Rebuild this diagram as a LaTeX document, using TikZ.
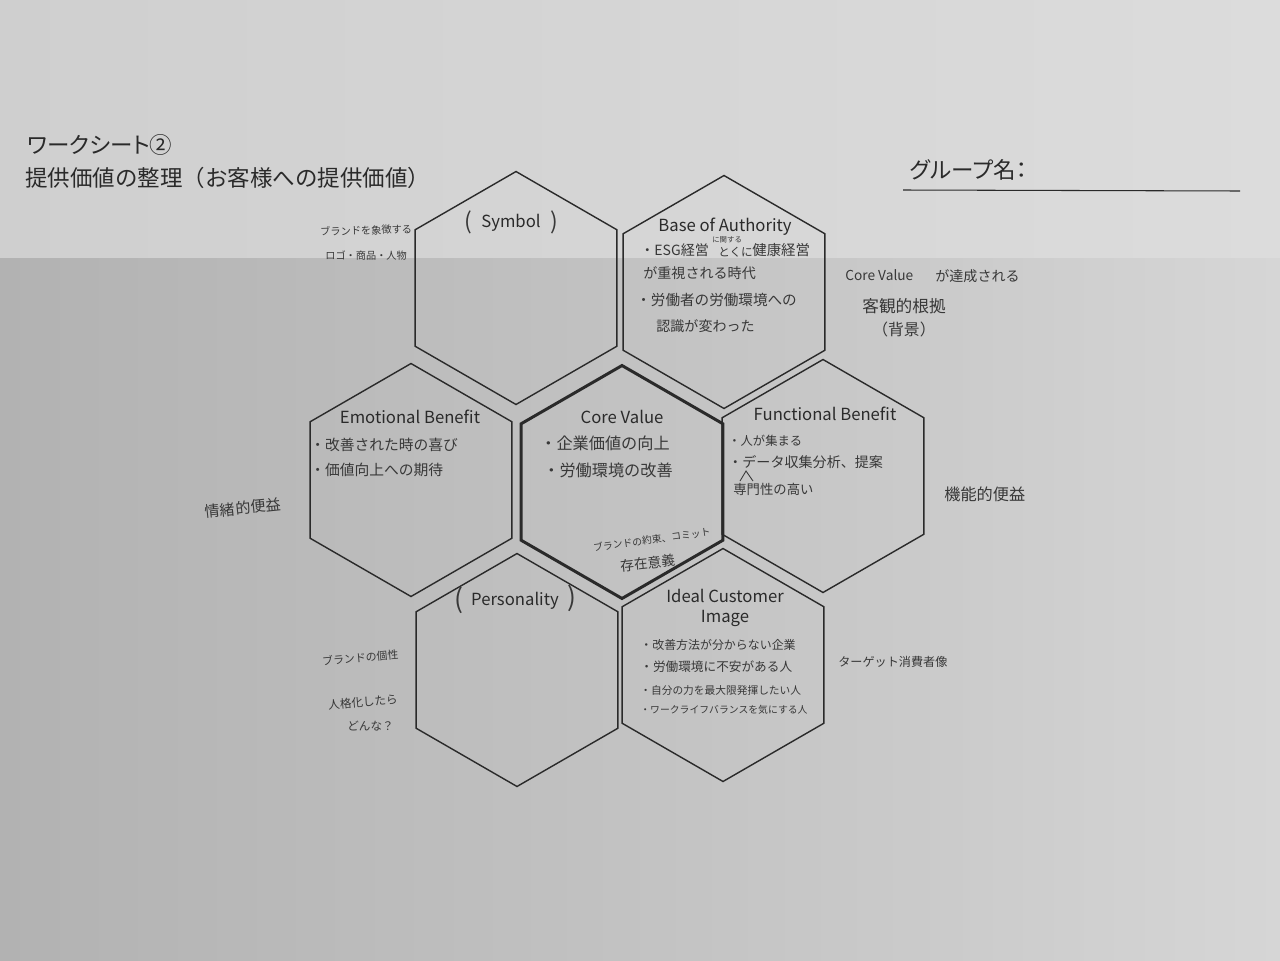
\documentclass[tikz,border=0pt]{standalone}
\usepackage{fontspec}
\setmainfont{Noto Sans CJK JP}
\newfontfamily\jpprop[RawFeature=+palt]{Noto Sans CJK JP}
\usetikzlibrary{shapes.geometric}
\definecolor{ink}{HTML}{2A2A2A}
\definecolor{pencil}{HTML}{383838}
% paper tones: the lit upper strip and the shadowed lower part
\definecolor{topL}{HTML}{CFCFCF}
\definecolor{topR}{HTML}{DCDCDC}
\definecolor{lowA}{HTML}{B2B2B2}
\definecolor{lowB}{HTML}{BFBFBF}
\definecolor{lowC}{HTML}{CBCBCB}
\definecolor{lowD}{HTML}{D6D6D6}
% the path spans the 25bp..75bp part of a shading
\pgfdeclarehorizontalshading{lowershade}{100bp}{color(0bp)=(lowA); color(25bp)=(lowA); color(45bp)=(lowB); color(62bp)=(lowC); color(75bp)=(lowD); color(100bp)=(lowD)}
\begin{document}
\begin{tikzpicture}[x=0.02cm,y=-0.02cm,
  hexcell/.style={regular polygon, regular polygon sides=6, shape border rotate=30,
    minimum size=4.66cm, inner sep=0pt, draw=ink, line width=0.8pt},
  corecell/.style={hexcell, line width=1.7pt},
  printed/.style={text=ink, font=\fontsize{9.5}{11}\selectfont, inner sep=0pt},
  hand/.style={text=pencil, font=\fontsize{8.3}{9.5}\selectfont, inner sep=0pt, anchor=west},
  paren/.style={text=pencil, font=\fontsize{13}{14}\selectfont, inner sep=0pt},
]
\useasboundingbox (0,0) rectangle (1280,960);

% paper
\shade[left color=topL, right color=topR] (0,0) rectangle (1280,259);
\shade[shading=lowershade] (0,258) rectangle (1280,960);

% header
\node[text=ink, anchor=west, inner sep=0pt, font=\jpprop\fontsize{12.8}{14}\selectfont] (sheet) at (27,145) {ワークシート②};
\node[text=ink, anchor=west, inner sep=0pt, font=\fontsize{12.8}{14}\selectfont] (subject) at (25,178) {提供価値の整理（お客様への提供価値）};
\node[text=ink, anchor=west, inner sep=0pt, font=\jpprop\fontsize{12.8}{14}\selectfont] (group) at (910,170) {グループ名：};
\coordinate (lineL) at (903,190);
\coordinate (lineR) at (1240,191);
\draw[ink, line width=0.6pt] (lineL) -- (lineR);

% honeycomb
\node[hexcell] (hSym) at (516,288) {};
\node[hexcell] (hBase) at (724,292) {};
\node[hexcell] (hEmo) at (411,480) {};
\node[corecell] (hCore) at (622,482) {};
\node[hexcell] (hFun) at (823,476) {};
\node[hexcell] (hPer) at (517,670) {};
\node[hexcell] (hIdeal) at (723,665) {};

% cell titles
\node[printed] (tSym) at (511,223) {Symbol};
\node[paren] (pSymL) at (468,222) {(};
\node[paren] (pSymR) at (554,222) {)};
\node[printed] (tBase) at (725,227) {Base of Authority};
\node[printed] (tEmo) at (410,417) {Emotional Benefit};
\node[printed] (tCore) at (622,417) {Core Value};
\node[printed] (tFun) at (825,414) {Functional Benefit};
\node[printed] (tPer) at (515,601) {Personality};
\node[paren, font=\fontsize{15}{16}\selectfont] (pPerL) at (459,600) {(};
\node[paren, font=\fontsize{15}{16}\selectfont] (pPerR) at (572,598) {)};
\node[printed, align=center, font=\fontsize{9.5}{11.5}\selectfont] (tIdeal) at (725,608) {Ideal Customer\\Image};

% Symbol notes
\node[hand, font=\fontsize{5.8}{7}\selectfont, rotate=2] (nSym1) at (320,232) {ブランドを象徴する};
\node[hand, font=\fontsize{5.8}{7}\selectfont] (nSym2) at (325,256) {ロゴ・商品・人物};

% Base of Authority notes
\node[hand, font=\fontsize{8}{9}\selectfont] (nBase1) at (640,250) {・ESG経営};
\node[hand, font=\fontsize{4.2}{5}\selectfont] (nBase1s) at (712,240) {に関する};
\node[hand, font=\fontsize{6.6}{8}\selectfont] (nBase1b) at (718,252) {とくに};
\node[hand, font=\fontsize{8.2}{9}\selectfont] (nBase1c) at (752,250) {健康経営};
\node[hand, font=\fontsize{8}{9}\selectfont] (nBase2) at (643,273) {が重視される時代};
\node[hand, font=\fontsize{8.3}{9}\selectfont] (nBase3) at (636,300) {・労働者の労働環境への};
\node[hand, font=\fontsize{8}{9}\selectfont] (nBase4) at (656,326) {認識が変わった};
\node[hand, font=\fontsize{7.8}{9}\selectfont] (nCV1) at (845,275) {Core Value};
\node[hand, font=\fontsize{8}{9}\selectfont] (nCV2) at (935,276) {が達成される};
\node[hand, font=\fontsize{9.5}{11}\selectfont] (nCV3) at (862,306) {客観的根拠};
\node[hand, font=\fontsize{9}{10}\selectfont] (nCV4) at (872,329) {（背景）};

% Emotional Benefit notes
\node[hand, font=\fontsize{8.4}{9.5}\selectfont] (nEmo1) at (310,445) {・改善された時の喜び};
\node[hand, font=\fontsize{8.4}{9.5}\selectfont] (nEmo2) at (310,470) {・価値向上への期待};
\node[hand, font=\fontsize{8.6}{10}\selectfont, rotate=6] (nEmo3) at (205,512) {情緒的便益};

% Core Value notes
\node[hand, font=\fontsize{9.2}{10}\selectfont] (nCore1) at (540,443) {・企業価値の向上};
\node[hand, font=\fontsize{9.2}{10}\selectfont] (nCore2) at (543,470) {・労働環境の改善};
\node[hand, font=\fontsize{5.6}{7}\selectfont, rotate=8] (nCore3) at (593,548) {ブランドの約束、コミット};
\node[hand, font=\fontsize{7.8}{9}\selectfont, rotate=6] (nCore4) at (620,566) {存在意義};

% Functional Benefit notes
\node[hand, font=\fontsize{7}{8}\selectfont] (nFun1) at (728,441) {・人が集まる};
\node[hand, font=\fontsize{8}{9}\selectfont] (nFun2) at (728,462) {・データ収集分析、提案};
\node[hand, font=\fontsize{7.6}{9}\selectfont] (nFun3) at (733,489) {専門性の高い};
\coordinate (caretA) at (740,481);
\coordinate (caretB) at (746,471);
\coordinate (caretC) at (753,481);
\draw[pencil, line width=0.5pt] (caretA) -- (caretB) -- (caretC);
\node[hand, font=\fontsize{9.2}{10}\selectfont] (nFun4) at (944,494) {機能的便益};

% Personality notes
\node[hand, font=\fontsize{6.2}{7}\selectfont, rotate=5] (nPer1) at (322,661) {ブランドの個性};
\node[hand, font=\fontsize{6.6}{8}\selectfont, rotate=5] (nPer2) at (328,705) {人格化したら};
\node[hand, font=\fontsize{6.6}{8}\selectfont] (nPer3) at (347,726) {どんな？};

% Ideal Customer Image notes
\node[hand, font=\fontsize{6.8}{8}\selectfont] (nId1) at (640,645) {・改善方法が分からない企業};
\node[hand, font=\fontsize{7.2}{8}\selectfont] (nId2) at (640,667) {・労働環境に不安がある人};
\node[hand, font=\fontsize{6.1}{7}\selectfont] (nId3) at (640,690) {・自分の力を最大限発揮したい人};
\node[hand, font=\fontsize{5.6}{7}\selectfont] (nId4) at (640,710) {・ワークライフバランスを気にする人};
\node[hand, font=\fontsize{6.9}{8}\selectfont] (nId5) at (838,662) {ターゲット消費者像};
\end{tikzpicture}
\end{document}
